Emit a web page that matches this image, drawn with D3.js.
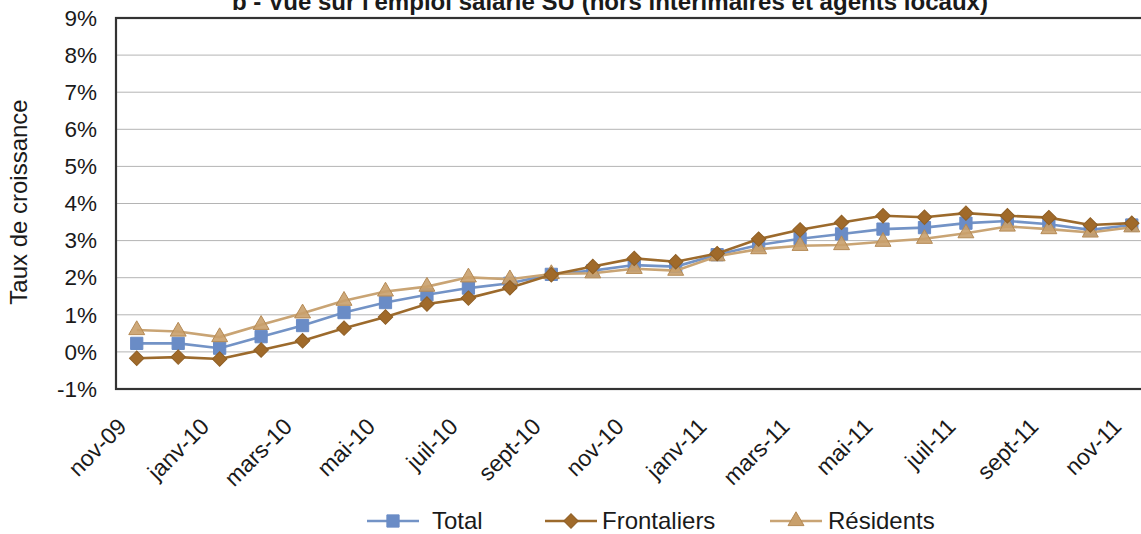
<!DOCTYPE html>
<html>
<head>
<meta charset="utf-8">
<script src="https://cdn.jsdelivr.net/npm/d3@7"></script>
<style>
  body { margin: 0; background: #fff; }
  svg { display: block; font-family: "Liberation Sans", Arial, sans-serif; }
</style>
</head>
<body>
<svg id="chart" width="1141" height="534"></svg>
<script>
const months = ["nov-09","déc-09","janv-10","févr-10","mars-10","avr-10","mai-10","juin-10","juil-10","août-10","sept-10","oct-10","nov-10","déc-10","janv-11","févr-11","mars-11","avr-11","mai-11","juin-11","juil-11","août-11","sept-11","oct-11","nov-11"];
const shownLabels = ["nov-09","janv-10","mars-10","mai-10","juil-10","sept-10","nov-10","janv-11","mars-11","mai-11","juil-11","sept-11","nov-11"];
const total = [0.23,0.23,0.10,0.41,0.71,1.06,1.33,1.54,1.72,1.85,2.09,2.19,2.34,2.30,2.62,2.88,3.05,3.18,3.31,3.35,3.47,3.53,3.44,3.29,3.42];
const frontaliers = [-0.17,-0.14,-0.19,0.05,0.30,0.64,0.94,1.29,1.45,1.73,2.08,2.30,2.52,2.43,2.65,3.04,3.29,3.49,3.67,3.63,3.74,3.67,3.62,3.42,3.47];
const residents = [0.59,0.55,0.40,0.73,1.04,1.38,1.63,1.76,2.01,1.96,2.10,2.12,2.24,2.19,2.58,2.77,2.86,2.88,2.97,3.05,3.20,3.38,3.31,3.22,3.36];
const yTicks = [-1,0,1,2,3,4,5,6,7,8,9];
const title = "b - Vue sur l'emploi salarié SU (hors intérimaires et agents locaux)";
const yTitle = "Taux de croissance";
const seriesNames = ["Total","Frontaliers","Résidents"];

(function () {
const svg = d3.select("#chart");
const plotLeft = 116, plotTop = 18, plotBottom = 389;
const step = 41.46;
const plotRight = plotLeft + months.length * step;

const x = d3.scaleBand().domain(months).range([plotLeft, plotRight]);
const y = d3.scaleLinear().domain([-1, 9]).range([plotBottom, plotTop]);
const cx = m => x(m) + x.bandwidth() / 2;

// gridlines
svg.append("g").selectAll("line").data(yTicks.filter(t => t > -1 && t < 9)).join("line")
  .attr("x1", plotLeft).attr("x2", plotRight)
  .attr("y1", d => y(d)).attr("y2", d => y(d))
  .attr("stroke", "#b4b4b4").attr("stroke-width", 1);

// frame
svg.append("rect").attr("x", plotLeft).attr("y", plotTop)
  .attr("width", plotRight - plotLeft).attr("height", plotBottom - plotTop)
  .attr("fill", "none").attr("stroke", "#333").attr("stroke-width", 2.2);

// y axis labels
const yAxis = d3.axisLeft(y).tickValues(yTicks).tickFormat(d => d + "%").tickSize(0).tickPadding(19);
const ya = svg.append("g").attr("transform", `translate(${plotLeft},0)`).call(yAxis);
ya.select(".domain").remove();
ya.selectAll("text").attr("font-size", 22.5).attr("fill", "#1a1a1a")
  .attr("font-family", "Liberation Sans, Arial, sans-serif");

// x axis labels
const xAxis = d3.axisBottom(x).tickValues(shownLabels).tickSize(0).tickPadding(0);
const xa = svg.append("g").attr("transform", `translate(0,${plotBottom})`).call(xAxis);
xa.select(".domain").remove();
xa.selectAll("text")
  .attr("font-size", 23).attr("fill", "#1a1a1a")
  .attr("font-family", "Liberation Sans, Arial, sans-serif")
  .attr("text-anchor", "end")
  .attr("y", 0).attr("dy", 0)
  .attr("transform", "translate(-9,39) rotate(-45)");

// y title
svg.append("text").attr("transform", "translate(27,202) rotate(-90)")
  .attr("text-anchor", "middle").attr("font-size", 24).attr("fill", "#1a1a1a")
  .text(yTitle);

// chart title
svg.append("text").attr("x", 610).attr("y", 10).attr("text-anchor", "middle")
  .attr("font-size", 24).attr("font-weight", "bold").attr("fill", "#1a1a1a")
  .attr("textLength", 756).attr("lengthAdjust", "spacingAndGlyphs")
  .text(title);

const line = d3.line().x((d, i) => cx(months[i])).y(d => y(d));

const styles = {
  Total: { data: total, line: "#7393c6", fill: "#6a8cc6", stroke: "#6a8cc6" },
  Frontaliers: { data: frontaliers, line: "#9c6a2c", fill: "#a06a2a", stroke: "#8f5f25" },
  "Résidents": { data: residents, line: "#c9a474", fill: "#c9a06c", stroke: "#b58a55" }
};

const markerPath = {
  Total: { gen: d3.symbol().type(d3.symbolSquare).size(150), rot: 0 },
  Frontaliers: { gen: d3.symbol().type(d3.symbolSquare).size(105), rot: 45 },
  "Résidents": { gen: d3.symbol().type(d3.symbolTriangle).size(110), rot: 0 }
};

function drawSeries(name) {
  const s = styles[name];
  const mk = markerPath[name];
  const g = svg.append("g");
  g.append("path").attr("d", line(s.data)).attr("fill", "none")
    .attr("stroke", s.line).attr("stroke-width", 2.6);
  g.selectAll("path.m").data(s.data).join("path").attr("class", "m")
    .attr("d", mk.gen())
    .attr("transform", (d, i) => `translate(${cx(months[i])},${y(d)}) rotate(${mk.rot})`)
    .attr("fill", s.fill).attr("stroke", s.stroke).attr("stroke-width", 1)
    .attr("fill-opacity", name === "Résidents" ? 0.9 : 1);
}
drawSeries("Total");
drawSeries("Résidents");
drawSeries("Frontaliers");

// legend
const legendItems = [
  { name: "Total", x: 367, tx: 432 },
  { name: "Frontaliers", x: 545, tx: 602 },
  { name: "Résidents", x: 770, tx: 828 }
];
const lg = svg.append("g");
legendItems.forEach(it => {
  const s = styles[it.name];
  const mk = markerPath[it.name];
  const ly = 521;
  lg.append("line").attr("x1", it.x).attr("x2", it.x + 52).attr("y1", ly).attr("y2", ly)
    .attr("stroke", s.line).attr("stroke-width", 2.6);
  lg.append("path").attr("d", mk.gen())
    .attr("transform", `translate(${it.x + 26},${ly}) rotate(${mk.rot})`)
    .attr("fill", s.fill).attr("stroke", s.stroke).attr("stroke-width", 1);
  lg.append("text").attr("x", it.tx).attr("y", ly + 8)
    .attr("font-size", 24).attr("fill", "#1a1a1a").text(it.name);
});
})();
</script>
</body>
</html>
